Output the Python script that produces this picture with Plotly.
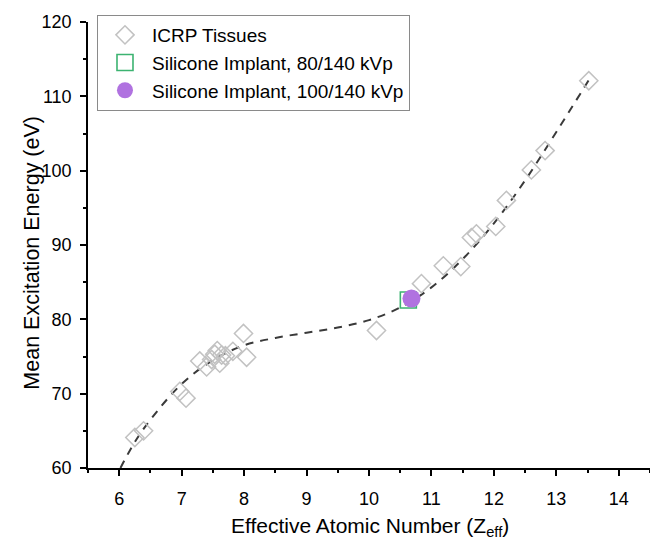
import plotly.graph_objects as go

# ICRP tissues (Zeff, mean excitation energy in eV)
icrp_z = [6.25, 6.39, 6.97, 7.07, 7.29, 7.40, 7.48, 7.53, 7.57, 7.61, 7.64, 7.70, 7.82, 7.99, 8.04,
          10.12, 10.84, 11.19, 11.47, 11.64, 11.72, 12.03, 12.20, 12.60, 12.82, 13.52]
icrp_i = [64.1, 65.0, 70.3, 69.4, 74.4, 73.6, 74.6, 75.3, 75.8, 74.1, 75.2, 75.1, 75.7, 78.1, 74.9,
          78.5, 84.8, 87.2, 87.1, 91.0, 91.5, 92.5, 96.0, 100.1, 102.7, 112.1]

# Silicone implant measurements
si80_z = [10.63]
si80_i = [82.6]
si100_z = [10.68]
si100_i = [82.8]

# Dashed trend curve
fit_z = [6.02, 6.25, 6.5, 7.0, 7.5, 8.0, 8.5, 9.0, 9.5, 10.0, 10.5, 11.0, 11.5, 12.0, 12.5, 13.0, 13.55]
fit_i = [60.0, 63.5, 66.5, 71.3, 74.5, 76.5, 77.5, 78.2, 78.9, 79.9, 81.6, 84.3, 88.1, 92.9, 98.7, 105.2, 112.6]

x_title = "Effective Atomic Number (Z<sub>eff</sub>)"
y_title = "Mean Excitation Energy (eV)"

FONT = "Liberation Sans, Arial, sans-serif"

fig = go.Figure()
fig.add_trace(go.Scatter(
    x=fit_z, y=fit_i, mode="lines", showlegend=False,
    line=dict(color="#3a3a3a", width=2, dash="8px,7px", shape="spline"),
))
fig.add_trace(go.Scatter(
    x=icrp_z, y=icrp_i, mode="markers", name="ICRP Tissues",
    marker=dict(symbol="diamond-open", size=14, color="#c2c2c2", line=dict(width=1.5, color="#c2c2c2")),
))
fig.add_trace(go.Scatter(
    x=si80_z, y=si80_i, mode="markers", name="Silicone Implant, 80/140 kVp",
    marker=dict(symbol="square-open", size=16, color="#3cb371", line=dict(width=1.6, color="#3cb371")),
))
fig.add_trace(go.Scatter(
    x=si100_z, y=si100_i, mode="markers", name="Silicone Implant, 100/140 kVp",
    marker=dict(symbol="circle", size=18, color="#b072e0"),
))

axis_common = dict(
    showgrid=False, zeroline=False, showline=True, linecolor="black", linewidth=1.5,
    ticks="outside", ticklen=6, tickwidth=1.5, tickcolor="black", mirror=False,
    tickfont=dict(family=FONT, size=18, color="black"),
)
fig.update_xaxes(
    range=[5.5, 14.5], tick0=6, dtick=1, ticklabelstandoff=8,
    minor=dict(ticks="outside", ticklen=3.5, tickwidth=1.5, tickcolor="black", dtick=0.5, tick0=5.5),
    **axis_common,
)
fig.update_yaxes(
    range=[60, 120], tick0=60, dtick=10, ticklabelstandoff=5,
    minor=dict(ticks="outside", ticklen=3.5, tickwidth=1.5, tickcolor="black", dtick=5, tick0=60),
    **axis_common,
)
fig.add_annotation(
    text=x_title, xref="paper", yref="paper", x=0.502, y=-0.1655,
    xanchor="center", yanchor="bottom", showarrow=False,
    font=dict(family=FONT, size=21, color="black"),
)
fig.add_annotation(
    text=y_title, xref="paper", yref="paper", x=-0.0995, y=0.483, textangle=-90,
    xanchor="center", yanchor="middle", showarrow=False,
    font=dict(family=FONT, size=21.5, color="black"),
)
fig.update_layout(
    width=650, height=543,
    margin=dict(l=88, r=0, t=22, b=75),
    plot_bgcolor="white", paper_bgcolor="white",
    legend=dict(
        x=0.016, y=1.0157, xanchor="left", yanchor="top",
        bgcolor="white", bordercolor="#8a8a8a", borderwidth=1,
        font=dict(family=FONT, size=19, color="black"),
        itemwidth=44,
    ),
)
fig.write_html("out.html")
